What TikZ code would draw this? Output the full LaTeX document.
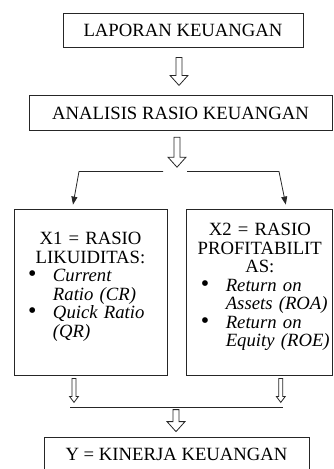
\documentclass[tikz,border=0pt]{standalone}
\usepackage{fontspec}
\setmainfont{Liberation Serif}
\usetikzlibrary{arrows.meta}
\usetikzlibrary{positioning}

\newcommand{\fs}{\fontsize{18.7}{18.5}\selectfont}
\newcommand{\itm}[1]{\par\noindent\llap{\makebox[25pt][l]{\fontsize{24}{18}\selectfont\textbullet}}{\itshape #1}}

\tikzset{
    box/.style={draw=black!85, line width=0.8pt, inner sep=0pt, font=\fs},
    ln/.style={draw=black!85, line width=0.8pt},
    toarrow/.style={ln, -{Triangle[length=8pt, width=6pt]}},
    pics/harr/.style={code={
      \draw[ln, fill=white] (-3,0) -- (-3,{-(#1-10)}) -- (-9,{-(#1-10)}) -- (0,-#1)
        -- (9,{-(#1-10)}) -- (3,{-(#1-10)}) -- (3,0) -- cycle;
    }},
    pics/tarr/.style={code={
      \draw[ln, fill=white] (-2,0) -- (-2,-18) -- (-4.5,-18) -- (0,-24)
        -- (4.5,-18) -- (2,-18) -- (2,0) -- cycle;
    }},
}

\begin{document}
\begin{tikzpicture}[x=1pt, y=1pt]
    \useasboundingbox (0,0) rectangle (333,-469);

    \node[box, minimum width=240pt, minimum height=34pt] (lap) at (183,-30) {LAPORAN KEUANGAN};
    \node[box, minimum width=303pt, minimum height=35pt] (ana) [below=48pt of lap, xshift=-2.5pt] {ANALISIS RASIO KEUANGAN};

    \node[box, minimum height=166pt, text width=153pt] (x1) at (90.5,-292) {%
      \centering X1 = RASIO\\LIKUIDITAS:\par
      \raggedright\leftskip=39pt
      \itm{Current\\Ratio (CR)}
      \itm{Quick Ratio\\(QR)}\par
      \vspace{10pt}\hrule height 0pt};
    \node[box, minimum height=166pt, text width=146pt] (x2) [right=19pt of x1] {%
      \centering X2 = RASIO\\PROFITABILIT\\AS:\par
      \raggedright\leftskip=39pt
      \itm{Return on\\Assets (ROA)}
      \itm{Return on\\Equity (ROE)}\par
      \vspace{10pt}\hrule height 0pt};

    \node[box, minimum width=265pt, minimum height=34pt] (kin) at (176.5,-454) {Y = KINERJA KEUANGAN};

    \pic at ([xshift=-4pt, yshift=-10pt]lap.south) {harr=28};
    \pic at ([xshift=-3.5pt, yshift=-6pt]ana.south) {harr=30};

    % split towards both ratio boxes
    \coordinate (sl) at (163,-171.5);
    \coordinate (sll) at (79,-171.5);
    \coordinate (sr) at (187,-171.5);
    \coordinate (srr) at (279,-171.5);
    \draw[toarrow] (sl) -- (sll) -- ([xshift=-17.5pt, yshift=4pt]x1.north);
    \draw[toarrow] (sr) -- (srr) -- ([xshift=26pt, yshift=4pt]x2.north);

    \pic at ([xshift=-16.5pt, yshift=-3pt]x1.south) {tarr};
    \pic at ([xshift=21pt, yshift=-3pt]x2.south) {tarr};

    \coordinate (bl) at (70,-407);
    \coordinate (br) at (283,-407);
    \draw[ln] (bl) -- (br);
    \pic at ([xshift=-0.5pt, yshift=27pt]kin.north) {harr=22};
\end{tikzpicture}
\end{document}
